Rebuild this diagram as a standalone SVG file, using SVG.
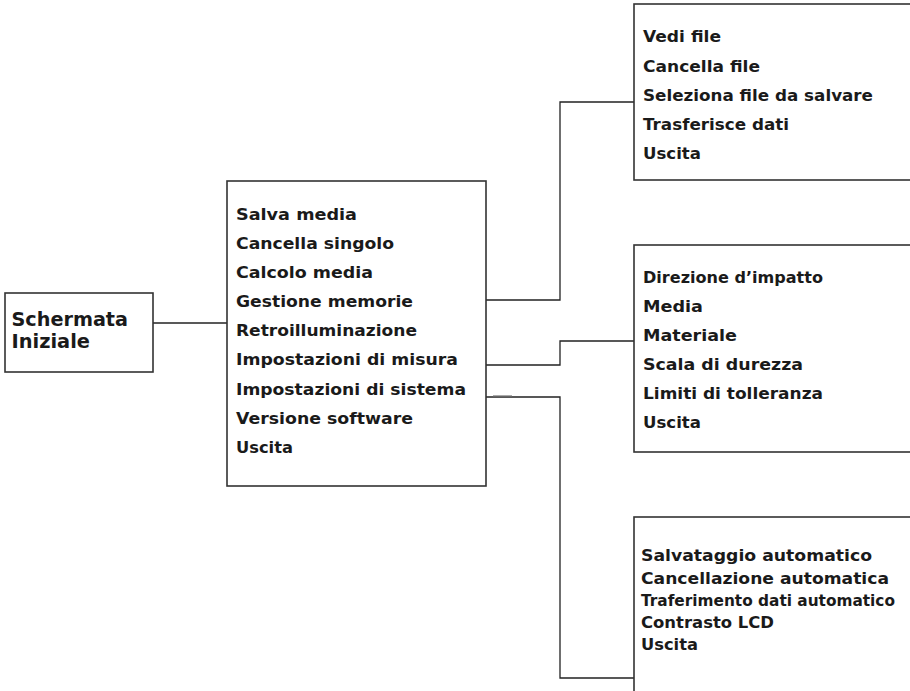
<svg xmlns="http://www.w3.org/2000/svg" width="910" height="691" viewBox="0 0 910 691">
<style>
.box{fill:#fff;stroke:#333;stroke-width:1.6}
.t{font-family:"DejaVu Sans","Liberation Sans",Arial,sans-serif;font-weight:bold;font-size:15.5px;fill:#1a1a1a}
.s{font-size:15px}
.big{font-size:19px}
.c{fill:none;stroke:#222;stroke-width:1.3}
</style>
<rect width="910" height="691" fill="#fff"/>
<g id="connectors">
<path class="c" d="M153,323 H227"/>
<path class="c" d="M486,300 H560 V102 H634"/>
<path class="c" d="M486,365 H560 V341 H634"/>
<path class="c" d="M486,397 H560 V678 H634"/>
<path d="M493,395.8 H512" stroke="#888" stroke-width="1" fill="none"/>
<path d="M148.5,313 L151,307" stroke="#333" stroke-width="1.2" fill="none"/>
</g>
<g id="schermata">
<rect class="box" x="5" y="293" width="148" height="79"/>
<text class="t big" x="11.5" y="326" textLength="116.5" lengthAdjust="spacingAndGlyphs">Schermata</text>
<text class="t big" x="11.5" y="348" textLength="78.5" lengthAdjust="spacingAndGlyphs">Iniziale</text>
</g>
<g id="menu">
<rect class="box" x="227" y="181" width="259" height="305"/>
<text class="t" x="236" y="220" textLength="121" lengthAdjust="spacingAndGlyphs">Salva media</text>
<text class="t" x="236" y="249" textLength="158" lengthAdjust="spacingAndGlyphs">Cancella singolo</text>
<text class="t" x="236" y="278" textLength="137" lengthAdjust="spacingAndGlyphs">Calcolo media</text>
<text class="t" x="236" y="307" textLength="177" lengthAdjust="spacingAndGlyphs">Gestione memorie</text>
<text class="t" x="236" y="336" textLength="181" lengthAdjust="spacingAndGlyphs">Retroilluminazione</text>
<text class="t" x="236" y="365" textLength="222" lengthAdjust="spacingAndGlyphs">Impostazioni di misura</text>
<text class="t" x="236" y="394.5" textLength="230" lengthAdjust="spacingAndGlyphs">Impostazioni di sistema</text>
<text class="t" x="236" y="424" textLength="177" lengthAdjust="spacingAndGlyphs">Versione software</text>
<text class="t" x="236" y="453" textLength="57" lengthAdjust="spacingAndGlyphs">Uscita</text>
</g>
<g id="memorie">
<rect class="box" x="634" y="4" width="290" height="176"/>
<text class="t" x="643" y="41.5" textLength="78" lengthAdjust="spacingAndGlyphs">Vedi file</text>
<text class="t" x="643" y="71.5" textLength="117" lengthAdjust="spacingAndGlyphs">Cancella file</text>
<text class="t" x="643" y="100.5" textLength="230" lengthAdjust="spacingAndGlyphs">Seleziona file da salvare</text>
<text class="t" x="643" y="130" textLength="146" lengthAdjust="spacingAndGlyphs">Trasferisce dati</text>
<text class="t" x="643" y="159" textLength="58" lengthAdjust="spacingAndGlyphs">Uscita</text>
</g>
<g id="misura">
<rect class="box" x="634" y="245" width="290" height="207"/>
<text class="t" x="643" y="282.5" textLength="180" lengthAdjust="spacingAndGlyphs">Direzione d’impatto</text>
<text class="t" x="643" y="311.5" textLength="60" lengthAdjust="spacingAndGlyphs">Media</text>
<text class="t" x="643" y="340.5" textLength="94" lengthAdjust="spacingAndGlyphs">Materiale</text>
<text class="t" x="643" y="370" textLength="160" lengthAdjust="spacingAndGlyphs">Scala di durezza</text>
<text class="t" x="643" y="398.5" textLength="180" lengthAdjust="spacingAndGlyphs">Limiti di tolleranza</text>
<text class="t" x="643" y="427.5" textLength="58" lengthAdjust="spacingAndGlyphs">Uscita</text>
</g>
<g id="sistema">
<rect class="box" x="634" y="517" width="290" height="200"/>
<text class="t s" x="641" y="561" textLength="231" lengthAdjust="spacingAndGlyphs">Salvataggio automatico</text>
<text class="t s" x="641" y="583.5" textLength="248" lengthAdjust="spacingAndGlyphs">Cancellazione automatica</text>
<text class="t s" x="641" y="605.5" textLength="254" lengthAdjust="spacingAndGlyphs">Traferimento dati automatico</text>
<text class="t s" x="641" y="627.5" textLength="133" lengthAdjust="spacingAndGlyphs">Contrasto LCD</text>
<text class="t s" x="641" y="650" textLength="57" lengthAdjust="spacingAndGlyphs">Uscita</text>
</g>
</svg>
